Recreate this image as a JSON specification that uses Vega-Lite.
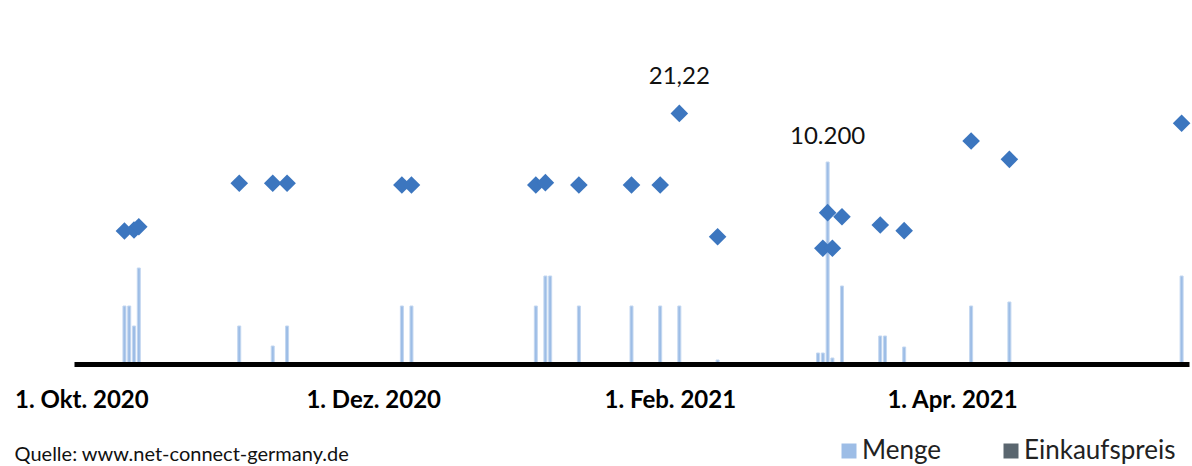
{
  "$schema": "https://vega.github.io/schema/vega-lite/v6.json",
  "width": 1115,
  "height": 300,
  "autosize": {"type": "none"},
  "padding": {"left": 74, "top": 66, "right": 3, "bottom": 100},
  "background": "white",
  "config": {"font": "Lato", "view": {"stroke": null}},
  "title": {
    "text": "Quelle: www.net-connect-germany.de",
    "orient": "bottom",
    "anchor": "start",
    "frame": "bounds",
    "fontSize": 20,
    "fontWeight": "normal",
    "font": "Lato",
    "color": "#111",
    "offset": 0,
    "dy": -19
  },
  "datasets": {
    "menge": [
      {"datum": "2020-10-10", "menge": 3000},
      {"datum": "2020-10-11", "menge": 3000},
      {"datum": "2020-10-12", "menge": 2000},
      {"datum": "2020-10-13", "menge": 4900},
      {"datum": "2020-11-03", "menge": 2000},
      {"datum": "2020-11-10", "menge": 1000},
      {"datum": "2020-11-13", "menge": 2000},
      {"datum": "2020-12-07", "menge": 3000},
      {"datum": "2020-12-09", "menge": 3000},
      {"datum": "2021-01-04", "menge": 3000},
      {"datum": "2021-01-06", "menge": 4500},
      {"datum": "2021-01-07", "menge": 4500},
      {"datum": "2021-01-13", "menge": 3000},
      {"datum": "2021-01-24", "menge": 3000},
      {"datum": "2021-01-30", "menge": 3000},
      {"datum": "2021-02-03", "menge": 3000},
      {"datum": "2021-02-11", "menge": 300},
      {"datum": "2021-03-04", "menge": 650},
      {"datum": "2021-03-05", "menge": 650},
      {"datum": "2021-03-06", "menge": 10200, "label": "10.200"},
      {"datum": "2021-03-07", "menge": 400},
      {"datum": "2021-03-09", "menge": 4000},
      {"datum": "2021-03-17", "menge": 1500},
      {"datum": "2021-03-18", "menge": 1500},
      {"datum": "2021-03-22", "menge": 950},
      {"datum": "2021-04-05", "menge": 3000},
      {"datum": "2021-04-13", "menge": 3200},
      {"datum": "2021-05-19", "menge": 4500}
    ],
    "preis": [
      {"datum": "2020-10-10", "preis": 11.34},
      {"datum": "2020-10-12", "preis": 11.42},
      {"datum": "2020-10-13", "preis": 11.70},
      {"datum": "2020-11-03", "preis": 15.35},
      {"datum": "2020-11-10", "preis": 15.35},
      {"datum": "2020-11-13", "preis": 15.35},
      {"datum": "2020-12-07", "preis": 15.20},
      {"datum": "2020-12-09", "preis": 15.20},
      {"datum": "2021-01-04", "preis": 15.20},
      {"datum": "2021-01-06", "preis": 15.40},
      {"datum": "2021-01-13", "preis": 15.20},
      {"datum": "2021-01-24", "preis": 15.20},
      {"datum": "2021-01-30", "preis": 15.20},
      {"datum": "2021-02-03", "preis": 21.22, "label": "21,22"},
      {"datum": "2021-02-11", "preis": 10.86},
      {"datum": "2021-03-05", "preis": 9.89},
      {"datum": "2021-03-06", "preis": 12.88},
      {"datum": "2021-03-07", "preis": 9.89},
      {"datum": "2021-03-09", "preis": 12.54},
      {"datum": "2021-03-17", "preis": 11.84},
      {"datum": "2021-03-22", "preis": 11.37},
      {"datum": "2021-04-05", "preis": 18.90},
      {"datum": "2021-04-13", "preis": 17.36},
      {"datum": "2021-05-19", "preis": 20.39}
    ]
  },
  "encoding": {
    "x": {
      "field": "datum",
      "type": "temporal",
      "scale": {
        "type": "utc",
        "nice": false,
        "domain": [
          {"year": 2020, "month": 9, "date": 30, "hours": 12, "utc": true},
          {"year": 2021, "month": 5, "date": 19, "hours": 12, "utc": true}
        ]
      },
      "axis": {
        "title": null,
        "values": [
          {"year": 2020, "month": 10, "date": 1, "utc": true},
          {"year": 2020, "month": 12, "date": 1, "utc": true},
          {"year": 2021, "month": 2, "date": 1, "utc": true},
          {"year": 2021, "month": 4, "date": 1, "utc": true}
        ],
        "labelExpr": "'1. ' + ['Jan.','Feb.','März','Apr.','Mai','Juni','Juli','Aug.','Sep.','Okt.','Nov.','Dez.'][utcmonth(datum.value)] + ' ' + utcyear(datum.value)",
        "domainColor": "#000",
        "domainWidth": 5,
        "ticks": false,
        "grid": false,
        "labelFont": "Lato",
        "labelFontSize": 24,
        "labelFontWeight": "bold",
        "labelColor": "#000",
        "labelPadding": 24,
        "labelFlush": false,
        "labelOverlap": false,
        "offset": -2,
        "zindex": 1
      }
    }
  },
  "layer": [
    {
      "data": {"name": "menge"},
      "layer": [
        {
          "mark": {"type": "bar", "width": 3, "stroke": "#c3d7f0", "strokeWidth": 1},
          "encoding": {
            "y": {"field": "menge", "type": "quantitative", "scale": {"domain": [0, 15000], "nice": false}, "axis": null},
            "color": {
              "datum": "Menge",
              "type": "nominal",
              "scale": {"domain": ["Menge", "Einkaufspreis"], "range": ["#9dbde6", "#5a666f"]},
              "legend": {
                "orient": "none",
                "legendX": 762,
                "legendY": 372,
                "direction": "horizontal",
                "title": null,
                "symbolType": "square",
                "symbolSize": 225,
                "symbolStrokeWidth": 0,
                "labelFontSize": 26,
                "labelFont": "Lato",
                "labelColor": "#222",
                "labelOffset": 0,
                "columnPadding": 56,
                "padding": 0
              }
            }
          }
        },
        {
          "transform": [{"filter": "datum.label != null"}],
          "mark": {"type": "text", "dy": -25, "fontSize": 24, "font": "Lato", "color": "#111"},
          "encoding": {
            "y": {"field": "menge", "type": "quantitative"},
            "text": {"field": "label"}
          }
        }
      ]
    },
    {
      "data": {"name": "preis"},
      "layer": [
        {
          "mark": {"type": "point", "shape": "diamond", "filled": true, "size": 310, "color": "#3c76bf", "opacity": 1},
          "encoding": {
            "y": {"field": "preis", "type": "quantitative", "scale": {"domain": [0, 25.2], "nice": false}, "axis": null}
          }
        },
        {
          "transform": [{"filter": "datum.label != null"}],
          "mark": {"type": "text", "dy": -36, "fontSize": 24, "font": "Lato", "color": "#111"},
          "encoding": {
            "y": {"field": "preis", "type": "quantitative"},
            "text": {"field": "label"}
          }
        }
      ]
    }
  ],
  "resolve": {"scale": {"y": "independent"}}
}
